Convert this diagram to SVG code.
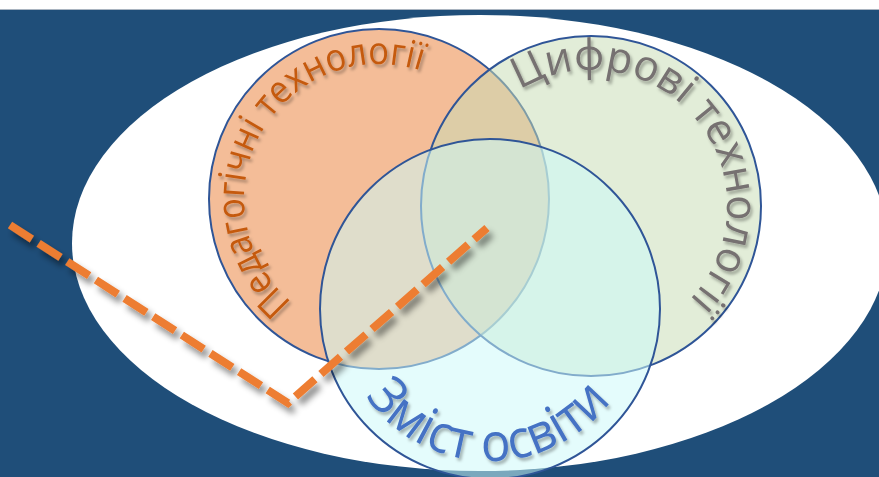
<svg xmlns="http://www.w3.org/2000/svg" width="879" height="477" viewBox="0 0 879 477">
<defs>
<style>
.circ{stroke:#2F5597;stroke-width:2}
.lbl{font-family:"Open Sans","Noto Sans","DejaVu Sans",sans-serif;filter:url(#tsh)}
</style>
<filter id="tsh" x="-20%" y="-20%" width="140%" height="140%">
<feDropShadow dx="2" dy="3" stdDeviation="1.6" flood-color="#000" flood-opacity="0.3"/>
</filter>
<filter id="lsh" x="-20%" y="-20%" width="140%" height="140%">
<feDropShadow dx="4" dy="6" stdDeviation="3" flood-color="#000" flood-opacity="0.45"/>
</filter>
<path id="pOrange" d="M 292.2 302.4 A 135 135 0 1 1 465.8 95.6 A 135 135 0 1 1 292.2 302.4"/>
<path id="pGreen" d="M 519.9 90.0 A 136 136 0 1 1 662.1 322.0 A 136 136 0 1 1 519.9 90.0"/>
<path id="pCyan" d="M 365.5 396.2 A 152 152 0 1 0 614.5 221.8 A 152 152 0 1 0 365.5 396.2"/>
</defs>
<rect x="0" y="0" width="879" height="477" fill="#1F4E79"/>
<rect x="0" y="0" width="879" height="9" fill="#FFFFFF"/>
<line x1="0" y1="9.5" x2="879" y2="9.5" stroke="#A9B4C0" stroke-width="1"/>
<ellipse id="background-ellipse" cx="480" cy="243" rx="408" ry="228" fill="#FFFFFF"/>
<g id="node-pedagogical">
<circle class="circ" cx="379" cy="199" r="170" fill="#F4BD98"/>
<text class="lbl" font-size="38" fill="#C55A11"><textPath href="#pOrange" textLength="372" lengthAdjust="spacingAndGlyphs">Педагогічні технології</textPath></text>
</g>
<g id="node-digital">
<circle class="circ" cx="591" cy="206" r="170" fill="#C8DDB5" fill-opacity="0.52"/>
<text class="lbl" font-size="43" fill="#767171"><textPath href="#pGreen" textLength="392" lengthAdjust="spacingAndGlyphs">Цифрові технології</textPath></text>
</g>
<g id="node-content">
<circle class="circ" cx="490" cy="309" r="170" fill="#CCF9F9" fill-opacity="0.53"/>
<text class="lbl" font-size="53" fill="#4472C4"><textPath href="#pCyan" textLength="286" lengthAdjust="spacingAndGlyphs">Зміст освіти</textPath></text>
</g>
<g id="connectors">
<polyline points="10,225 288,403 487,228" fill="none" stroke="#ED7D31" stroke-width="8" stroke-dasharray="26 8" stroke-linejoin="miter" filter="url(#lsh)"/>
</g>
</svg>
